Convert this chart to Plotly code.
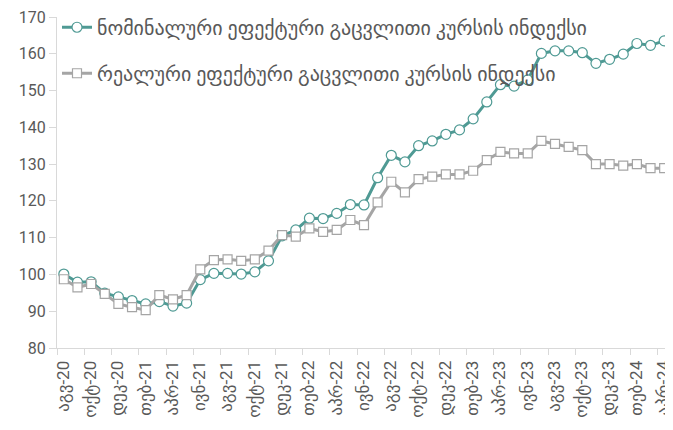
import plotly.graph_objects as go

months = ["იან", "თებ", "მარ", "აპრ", "მაი", "ივნ", "ივლ", "აგვ", "სექ", "ოქტ", "ნოე", "დეკ"]
categories = []
y, m = 2020, 7
for _ in range(45):
    categories.append(f"{months[m]}-{str(y)[2:]}")
    m += 1
    if m == 12:
        m, y = 0, y + 1

nominal = [100.1, 97.9, 98.0, 94.9, 93.9, 92.9, 92.0, 92.6, 91.4, 92.2,
           98.6, 100.3, 100.3, 100.1, 100.7, 103.7, 110.5, 112.1, 115.3, 115.2,
           116.6, 119.0, 118.9, 126.3, 132.4, 130.6, 135.0, 136.3, 138.1, 139.3,
           142.3, 146.9, 151.6, 151.2, 152.9, 160.1, 160.8, 160.8, 160.3, 157.4,
           158.5, 159.9, 162.8, 162.3, 163.5]
real = [98.7, 96.5, 97.4, 94.7, 92.0, 91.1, 90.3, 94.4, 93.2, 94.4,
        101.4, 103.9, 104.1, 103.7, 104.1, 106.5, 110.7, 110.3, 112.5, 111.6,
        112.1, 114.8, 113.4, 119.6, 125.2, 122.3, 125.9, 126.6, 127.2, 127.2,
        128.2, 131.1, 133.3, 132.9, 132.9, 136.3, 135.5, 134.7, 133.8, 130.0,
        130.0, 129.6, 130.0, 128.9, 128.9]

name_nominal = "ნომინალური ეფექტური გაცვლითი კურსის ინდექსი"
name_real = "რეალური ეფექტური გაცვლითი კურსის ინდექსი"

xs = list(range(len(categories)))
teal = "#4f9a94"
gray = "#a5a5a5"
txt = "#595959"
font_family = "Roboto, DejaVu Sans, sans-serif"

fig = go.Figure()
fig.add_trace(go.Scatter(
    x=xs, y=nominal, name=name_nominal, mode="lines+markers", legendgroup="a",
    line=dict(color=teal, width=3),
    marker=dict(symbol="circle", size=10, color="white", line=dict(color=teal, width=1.2)),
))
fig.add_trace(go.Scatter(
    x=xs, y=real, name=name_real, mode="lines+markers", legendgroup="b",
    line=dict(color=gray, width=3),
    marker=dict(symbol="square", size=9, color="white", line=dict(color=gray, width=1.2)),
))

tickvals = [i - 0.05 for i in xs[::2]]
ticktext = categories[::2]

# page body has an 8px default margin, so the figure is sized/offset to compensate
fig.update_layout(
    width=665, height=422,
    margin=dict(l=49, r=2, t=9, b=82, autoexpand=False),
    paper_bgcolor="white", plot_bgcolor="white",
    font=dict(family=font_family, color=txt, size=15),
    showlegend=True,
    legend=dict(x=0.0, y=1.028, xanchor="left", yanchor="top",
                bgcolor="rgba(0,0,0,0)", font=dict(size=20, color=txt),
                tracegroupgap=17, traceorder="grouped"),
    xaxis=dict(
        range=[-0.5, len(xs) - 0.5], automargin=False,
        tickmode="array", tickvals=tickvals, ticktext=ticktext,
        tickangle=-90, ticks="", showgrid=False, zeroline=False,
        showline=True, linecolor="#d9d9d9", linewidth=1,
        tickfont=dict(size=17, color=txt), ticklabelstandoff=5,
        ticklabeloverflow="allow",
        minor=dict(tickmode="array", tickvals=[i - 0.5 for i in xs[::2]] + [len(xs) - 0.5],
                   ticks="outside", ticklen=6, tickcolor="#d9d9d9", showgrid=False),
    ),
    yaxis=dict(
        range=[80, 170], dtick=10, tick0=80, automargin=False,
        showgrid=False, zeroline=False,
        showline=True, linecolor="#d9d9d9", linewidth=1,
        ticks="outside", ticklen=7, tickcolor="#d9d9d9",
        tickfont=dict(size=16, color=txt), ticklabeloverflow="allow",
    ),
)

fig.write_html("out.html")
